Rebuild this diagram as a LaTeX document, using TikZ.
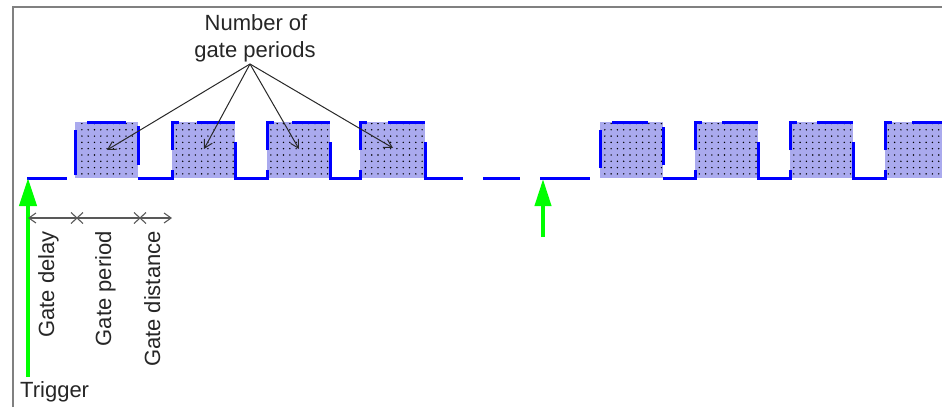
\documentclass[tikz,border=0pt]{standalone}
\usepackage{fontspec}
\setmainfont{Liberation Sans}
\usetikzlibrary{arrows.meta,patterns.meta}
\definecolor{sigblue}{RGB}{0,0,255}
\definecolor{boxfill}{RGB}{170,170,238}
\definecolor{trig}{RGB}{0,255,0}
\definecolor{framecol}{RGB}{128,128,128}
\definecolor{ptr}{RGB}{40,40,40}
\tikzset{
 sig/.style={draw=sigblue, line width=3pt, line cap=butt, line join=miter},
 gatebox/.style={fill=boxfill},
 dotfill/.style={pattern={Dots[distance=6.3pt,radius=0.8pt]}, pattern color=black},
 trigarrow/.style={draw=trig, line width=4pt, -{Triangle[length=28pt,width=17pt]}},
 ptrarrow/.style={draw=ptr, line width=1pt, -{Straight Barb[length=8pt,width=9pt]}},
 dimline/.style={draw=black!65, line width=1.1pt},
 dimarrow/.style={dimline, {Straight Barb[length=7pt,width=10pt]}-{Straight Barb[length=7pt,width=10pt]}},
 lbl/.style={font=\fontsize{22}{27}\selectfont, text=black!85, inner sep=0pt},
}
\begin{document}
\begin{tikzpicture}[x=1pt,y=-1pt]
\useasboundingbox (0,0) rectangle (942,407);
\fill[white] (0,0) rectangle (942,407);
% frame
\draw[framecol, line width=2.5pt] (13,407) -- (13,7) -- (942,7);
% gate boxes
\foreach \L/\R in {75/138,172/235,267/330,360/425,600/663,695/758,790/853,885/942} {
  \fill[gatebox] (\L,122) rectangle (\R,178);
  \fill[dotfill] (\L+2,123) rectangle (\R-1,177);
}
% signal
\draw[sig] (27,178) -- (67,178);
\draw[sig] (75,175) -- (75,130);
\draw[sig] (87,122) -- (126,122);
\draw[sig] (138,126) -- (138,165);
\draw[sig] (138,178) -- (172,178) -- (172,170);
\draw[sig] (172,150) -- (172,122) -- (179,122);
\draw[sig] (197,122) -- (235,122);
\draw[sig] (235,142) -- (235,178) -- (267,178) -- (267,170);
\draw[sig] (267,150) -- (267,122) -- (274,122);
\draw[sig] (292,122) -- (330,122);
\draw[sig] (330,142) -- (330,178) -- (360,178) -- (360,170);
\draw[sig] (360,150) -- (360,122) -- (367,122);
\draw[sig] (388,122) -- (425,122);
\draw[sig] (425,142) -- (425,178) -- (463,178);
\draw[sig] (483,178) -- (520,178);
\draw[sig] (540,178) -- (590,178);
\draw[sig] (600,168) -- (600,130);
\draw[sig] (612,122) -- (648,122);
\draw[sig] (663,127) -- (663,165);
\draw[sig] (663,178) -- (695,178) -- (695,170);
\draw[sig] (695,150) -- (695,122) -- (702,122);
\draw[sig] (722,122) -- (758,122);
\draw[sig] (758,142) -- (758,178) -- (790,178) -- (790,170);
\draw[sig] (790,150) -- (790,122) -- (797,122);
\draw[sig] (817,122) -- (853,122);
\draw[sig] (853,142) -- (853,178) -- (885,178) -- (885,170);
\draw[sig] (885,150) -- (885,122) -- (892,122);
\draw[sig] (912,122) -- (942,122);
% label and pointers
\node[lbl, anchor=base] (ngp1) at (256,30) {Number of};
\node[lbl, anchor=base] (ngp2) at (255,57) {gate periods};
\coordinate (conv) at (250,64);
\coordinate (t1) at (107,150);
\coordinate (t2) at (204,149);
\coordinate (t3) at (299,149);
\coordinate (t4) at (393,148);
\foreach \t in {t1,t2,t3,t4} \draw[ptrarrow] (conv) -- (\t);
% triggers
\coordinate (tr1b) at (28,377);
\coordinate (tr1t) at (28,178);
\coordinate (tr2b) at (543,237);
\coordinate (tr2t) at (543,179);
\draw[trigarrow] (tr1b) -- (tr1t);
\draw[trigarrow, -{Triangle[length=27pt,width=16pt]}] (tr2b) -- (tr2t);
\node[lbl, anchor=base west] (trg) at (20,397) {Trigger};
% dimension line
\coordinate (d0) at (28,218);
\coordinate (d1) at (77,218);
\coordinate (d2) at (140,218);
\coordinate (d3) at (172,218);
\draw[dimarrow] (d0) -- (d3);
\foreach \d in {d1,d2} {
  \draw[dimline] ([shift={(-6,-5.5)}]\d) -- ([shift={(6,5.5)}]\d);
  \draw[dimline] ([shift={(-6,5.5)}]\d) -- ([shift={(6,-5.5)}]\d);
}
\node[lbl, rotate=90, anchor=base east] (gd) at (54,231) {Gate delay};
\node[lbl, rotate=90, anchor=base east] (gp) at (111,231) {Gate period};
\node[lbl, rotate=90, anchor=base east] (gdi) at (160,231) {Gate distance};
\end{tikzpicture}
\end{document}
